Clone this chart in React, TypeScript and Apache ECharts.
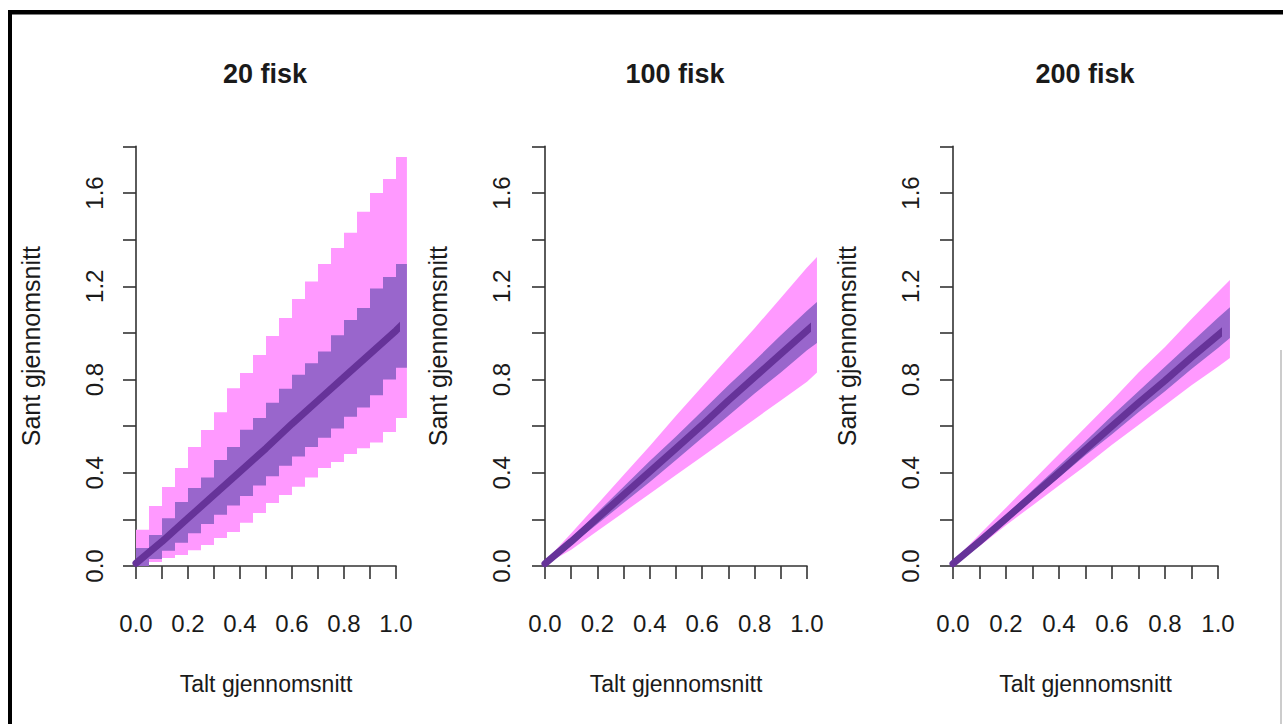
import React, { useEffect, useRef } from "react";
import * as echarts from "echarts";

// ---------- texts ----------
const panelTitles = ["20 fisk", "100 fisk", "200 fisk"];
const xAxisTitle = "Talt gjennomsnitt";
const yAxisTitle = "Sant gjennomsnitt";

// ---------- panel 1 (20 fisk): step bands, left edges every 0.05 ----------
const p1StepX = [0, 0.05, 0.1, 0.15, 0.2, 0.25, 0.3, 0.35, 0.4, 0.45, 0.5, 0.55, 0.6, 0.65, 0.7, 0.75, 0.8, 0.85, 0.9, 0.95, 1.0];
const p1StepEnd = 1.042;
const p1PinkHi = [0.155, 0.257, 0.339, 0.42, 0.51, 0.583, 0.66, 0.763, 0.828, 0.905, 0.987, 1.064, 1.145, 1.22, 1.296, 1.364, 1.43, 1.52, 1.6, 1.66, 1.755];
const p1PinkLo = [0.005, 0.017, 0.034, 0.047, 0.068, 0.09, 0.12, 0.146, 0.185, 0.227, 0.27, 0.305, 0.34, 0.38, 0.42, 0.446, 0.48, 0.505, 0.53, 0.575, 0.635];
const p1PurHi = [0.077, 0.133, 0.205, 0.275, 0.335, 0.38, 0.455, 0.51, 0.585, 0.635, 0.7, 0.76, 0.82, 0.87, 0.92, 0.99, 1.055, 1.107, 1.19, 1.24, 1.296];
const p1PurLo = [0.0, 0.03, 0.065, 0.1, 0.14, 0.18, 0.22, 0.26, 0.3, 0.345, 0.385, 0.43, 0.47, 0.51, 0.55, 0.59, 0.64, 0.68, 0.733, 0.8, 0.85];
const p1MedX = [0, 0.1, 0.2, 0.3, 0.4, 0.5, 0.6, 0.7, 0.8, 0.9, 1.0, 1.042];
const p1Med = [0.012, 0.105, 0.205, 0.305, 0.405, 0.505, 0.61, 0.71, 0.81, 0.91, 1.01, 1.055];

// ---------- panel 2 (100 fisk) ----------
const p2X = [0, 0.1, 0.2, 0.3, 0.4, 0.5, 0.6, 0.7, 0.8, 0.9, 1.0, 1.038];
const p2Med = [0.01, 0.105, 0.205, 0.305, 0.405, 0.505, 0.605, 0.71, 0.81, 0.91, 1.01, 1.047];
const p2PinkHi = [0.02, 0.14, 0.265, 0.39, 0.515, 0.645, 0.77, 0.895, 1.02, 1.15, 1.28, 1.326];
const p2PinkLo = [0.005, 0.07, 0.15, 0.23, 0.31, 0.39, 0.47, 0.55, 0.63, 0.71, 0.79, 0.83];
const p2PurHi = [0.015, 0.12, 0.23, 0.34, 0.45, 0.555, 0.665, 0.775, 0.88, 0.99, 1.095, 1.133];
const p2PurLo = [0.005, 0.09, 0.18, 0.27, 0.36, 0.455, 0.55, 0.645, 0.74, 0.83, 0.925, 0.957];

// ---------- panel 3 (200 fisk) ----------
const p3X = [0, 0.1, 0.2, 0.3, 0.4, 0.5, 0.6, 0.7, 0.8, 0.9, 1.0, 1.045];
const p3Med = [0.01, 0.105, 0.203, 0.302, 0.4, 0.5, 0.6, 0.7, 0.795, 0.895, 0.99, 1.034];
const p3PinkHi = [0.02, 0.135, 0.25, 0.365, 0.48, 0.595, 0.71, 0.83, 0.94, 1.06, 1.175, 1.227];
const p3PinkLo = [0.005, 0.085, 0.175, 0.26, 0.345, 0.43, 0.52, 0.605, 0.69, 0.775, 0.855, 0.892];
const p3PurHi = [0.015, 0.115, 0.22, 0.325, 0.43, 0.535, 0.645, 0.75, 0.855, 0.96, 1.065, 1.11];
const p3PurLo = [0.008, 0.097, 0.19, 0.285, 0.38, 0.475, 0.565, 0.66, 0.75, 0.845, 0.935, 0.978];

// ---------- styling ----------
const PINK = "#FF99FF";
const PURPLE = "#9966CC";
const DARK = "#663399";
const AXIS = "#333333";
const TEXT = "#1a1a1a";
const FONT = "Liberation Sans";

// layout per panel (pixels)
const panels = [
  { left: 136, width: 260, yOff: 10, titleX: 265 },
  { left: 545, width: 262, yOff: 12, titleX: 675 },
  { left: 953, width: 265, yOff: 11, titleX: 1085 },
];
const GRID_TOP = 146.4;
const GRID_H = 419.6;

function stepPolygon(xs: number[], end: number, lo: number[], hi: number[]) {
  const top: number[][] = [];
  const bot: number[][] = [];
  xs.forEach((x, k) => {
    const xr = k < xs.length - 1 ? xs[k + 1] : end;
    top.push([x, hi[k]], [xr, hi[k]]);
    bot.push([x, lo[k]], [xr, lo[k]]);
  });
  return top.concat(bot.reverse());
}

function linePolygon(xs: number[], lo: number[], hi: number[]) {
  const top = xs.map((x, k) => [x, hi[k]]);
  const bot = xs.map((x, k) => [x, lo[k]]).reverse();
  return top.concat(bot);
}

function bandSeries(idx: number, pts: number[][], color: string, z: number) {
  return {
    type: "custom",
    xAxisIndex: idx,
    yAxisIndex: idx,
    clip: false,
    silent: true,
    z,
    data: [[pts[0][0], pts[0][1]]],
    renderItem: (_params: any, api: any) => ({
      type: "polygon",
      shape: { points: pts.map((p) => api.coord(p)) },
      style: { fill: color, stroke: null },
    }),
  };
}

function medianSeries(idx: number, xs: number[], ys: number[]) {
  return {
    type: "line",
    xAxisIndex: idx,
    yAxisIndex: idx,
    clip: false,
    silent: true,
    z: 5,
    symbol: "none",
    data: xs.map((x, k) => [x, ys[k]]),
    lineStyle: { color: DARK, width: 7, cap: "round", join: "round" },
  };
}

export default function App() {
  const ref = useRef<HTMLDivElement>(null);

  useEffect(() => {
    if (!ref.current) return;
    const chart = echarts.init(ref.current, null, { renderer: "svg" });

    const bands = [
      {
        pink: stepPolygon(p1StepX, p1StepEnd, p1PinkLo, p1PinkHi),
        pur: stepPolygon(p1StepX, p1StepEnd, p1PurLo, p1PurHi),
        mx: p1MedX,
        my: p1Med,
      },
      { pink: linePolygon(p2X, p2PinkLo, p2PinkHi), pur: linePolygon(p2X, p2PurLo, p2PurHi), mx: p2X, my: p2Med },
      { pink: linePolygon(p3X, p3PinkLo, p3PinkHi), pur: linePolygon(p3X, p3PurLo, p3PurHi), mx: p3X, my: p3Med },
    ];

    const series: any[] = [];
    bands.forEach((b, i) => {
      series.push(bandSeries(i, b.pink, PINK, 2));
      series.push(bandSeries(i, b.pur, PURPLE, 3));
      series.push(medianSeries(i, b.mx, b.my));
    });

    const option: any = {
      animation: false,
      backgroundColor: "#ffffff",
      title: panels.map((p, i) => ({
        text: panelTitles[i],
        left: p.titleX,
        top: 60,
        padding: 0,
        textAlign: "center",
        textStyle: { fontFamily: FONT, fontSize: 27, fontWeight: "bold", color: TEXT },
      })),
      grid: panels.map((p) => ({ left: p.left, width: p.width, top: GRID_TOP, height: GRID_H })),
      xAxis: panels.map((_p, i) => ({
        type: "value",
        gridIndex: i,
        min: 0,
        max: 1,
        interval: 0.1,
        offset: 14,
        name: xAxisTitle,
        nameLocation: "middle",
        nameGap: 92,
        nameTextStyle: { fontFamily: FONT, fontSize: 23, color: TEXT },
        axisLine: { show: true, lineStyle: { color: AXIS, width: 1.6 } },
        axisTick: { show: true, length: 13, lineStyle: { color: AXIS, width: 1.6 } },
        axisLabel: {
          margin: 31,
          fontFamily: FONT,
          fontSize: 24,
          color: TEXT,
          formatter: (v: number) => (Math.round(v * 10) % 2 === 0 ? v.toFixed(1) : ""),
        },
        splitLine: { show: false },
      })),
      yAxis: panels.map((p, i) => ({
        type: "value",
        gridIndex: i,
        min: 0,
        max: 1.8,
        interval: 0.2,
        offset: p.yOff,
        name: yAxisTitle,
        nameLocation: "middle",
        nameGap: 83,
        nameTextStyle: { fontFamily: FONT, fontSize: 25, color: TEXT, padding: [0, 0, 0, 20] },
        axisLine: { show: true, lineStyle: { color: AXIS, width: 1.6 } },
        axisTick: { show: true, length: 13, lineStyle: { color: AXIS, width: 1.6 } },
        axisLabel: {
          margin: 20,
          rotate: 90,
          fontFamily: FONT,
          fontSize: 24,
          color: TEXT,
          formatter: (v: number) => (Math.round(v * 10) % 4 === 0 ? v.toFixed(1) : ""),
        },
        splitLine: { show: false },
      })),
      graphic: [
        { type: "rect", shape: { x: 9, y: 10, width: 1274, height: 4.5 }, style: { fill: "#000" }, silent: true },
        { type: "rect", shape: { x: 8, y: 10, width: 4, height: 714 }, style: { fill: "#000" }, silent: true },
        { type: "rect", shape: { x: 1280.5, y: 350, width: 1, height: 374 }, style: { fill: "#9a9a9a" }, silent: true },
      ],
      series,
    };

    chart.setOption(option);
    return () => chart.dispose();
  }, []);

  return (
    <div
      ref={ref}
      style={{ position: "fixed", left: 0, top: 0, width: 1283, height: 724, background: "#fff" }}
    />
  );
}
